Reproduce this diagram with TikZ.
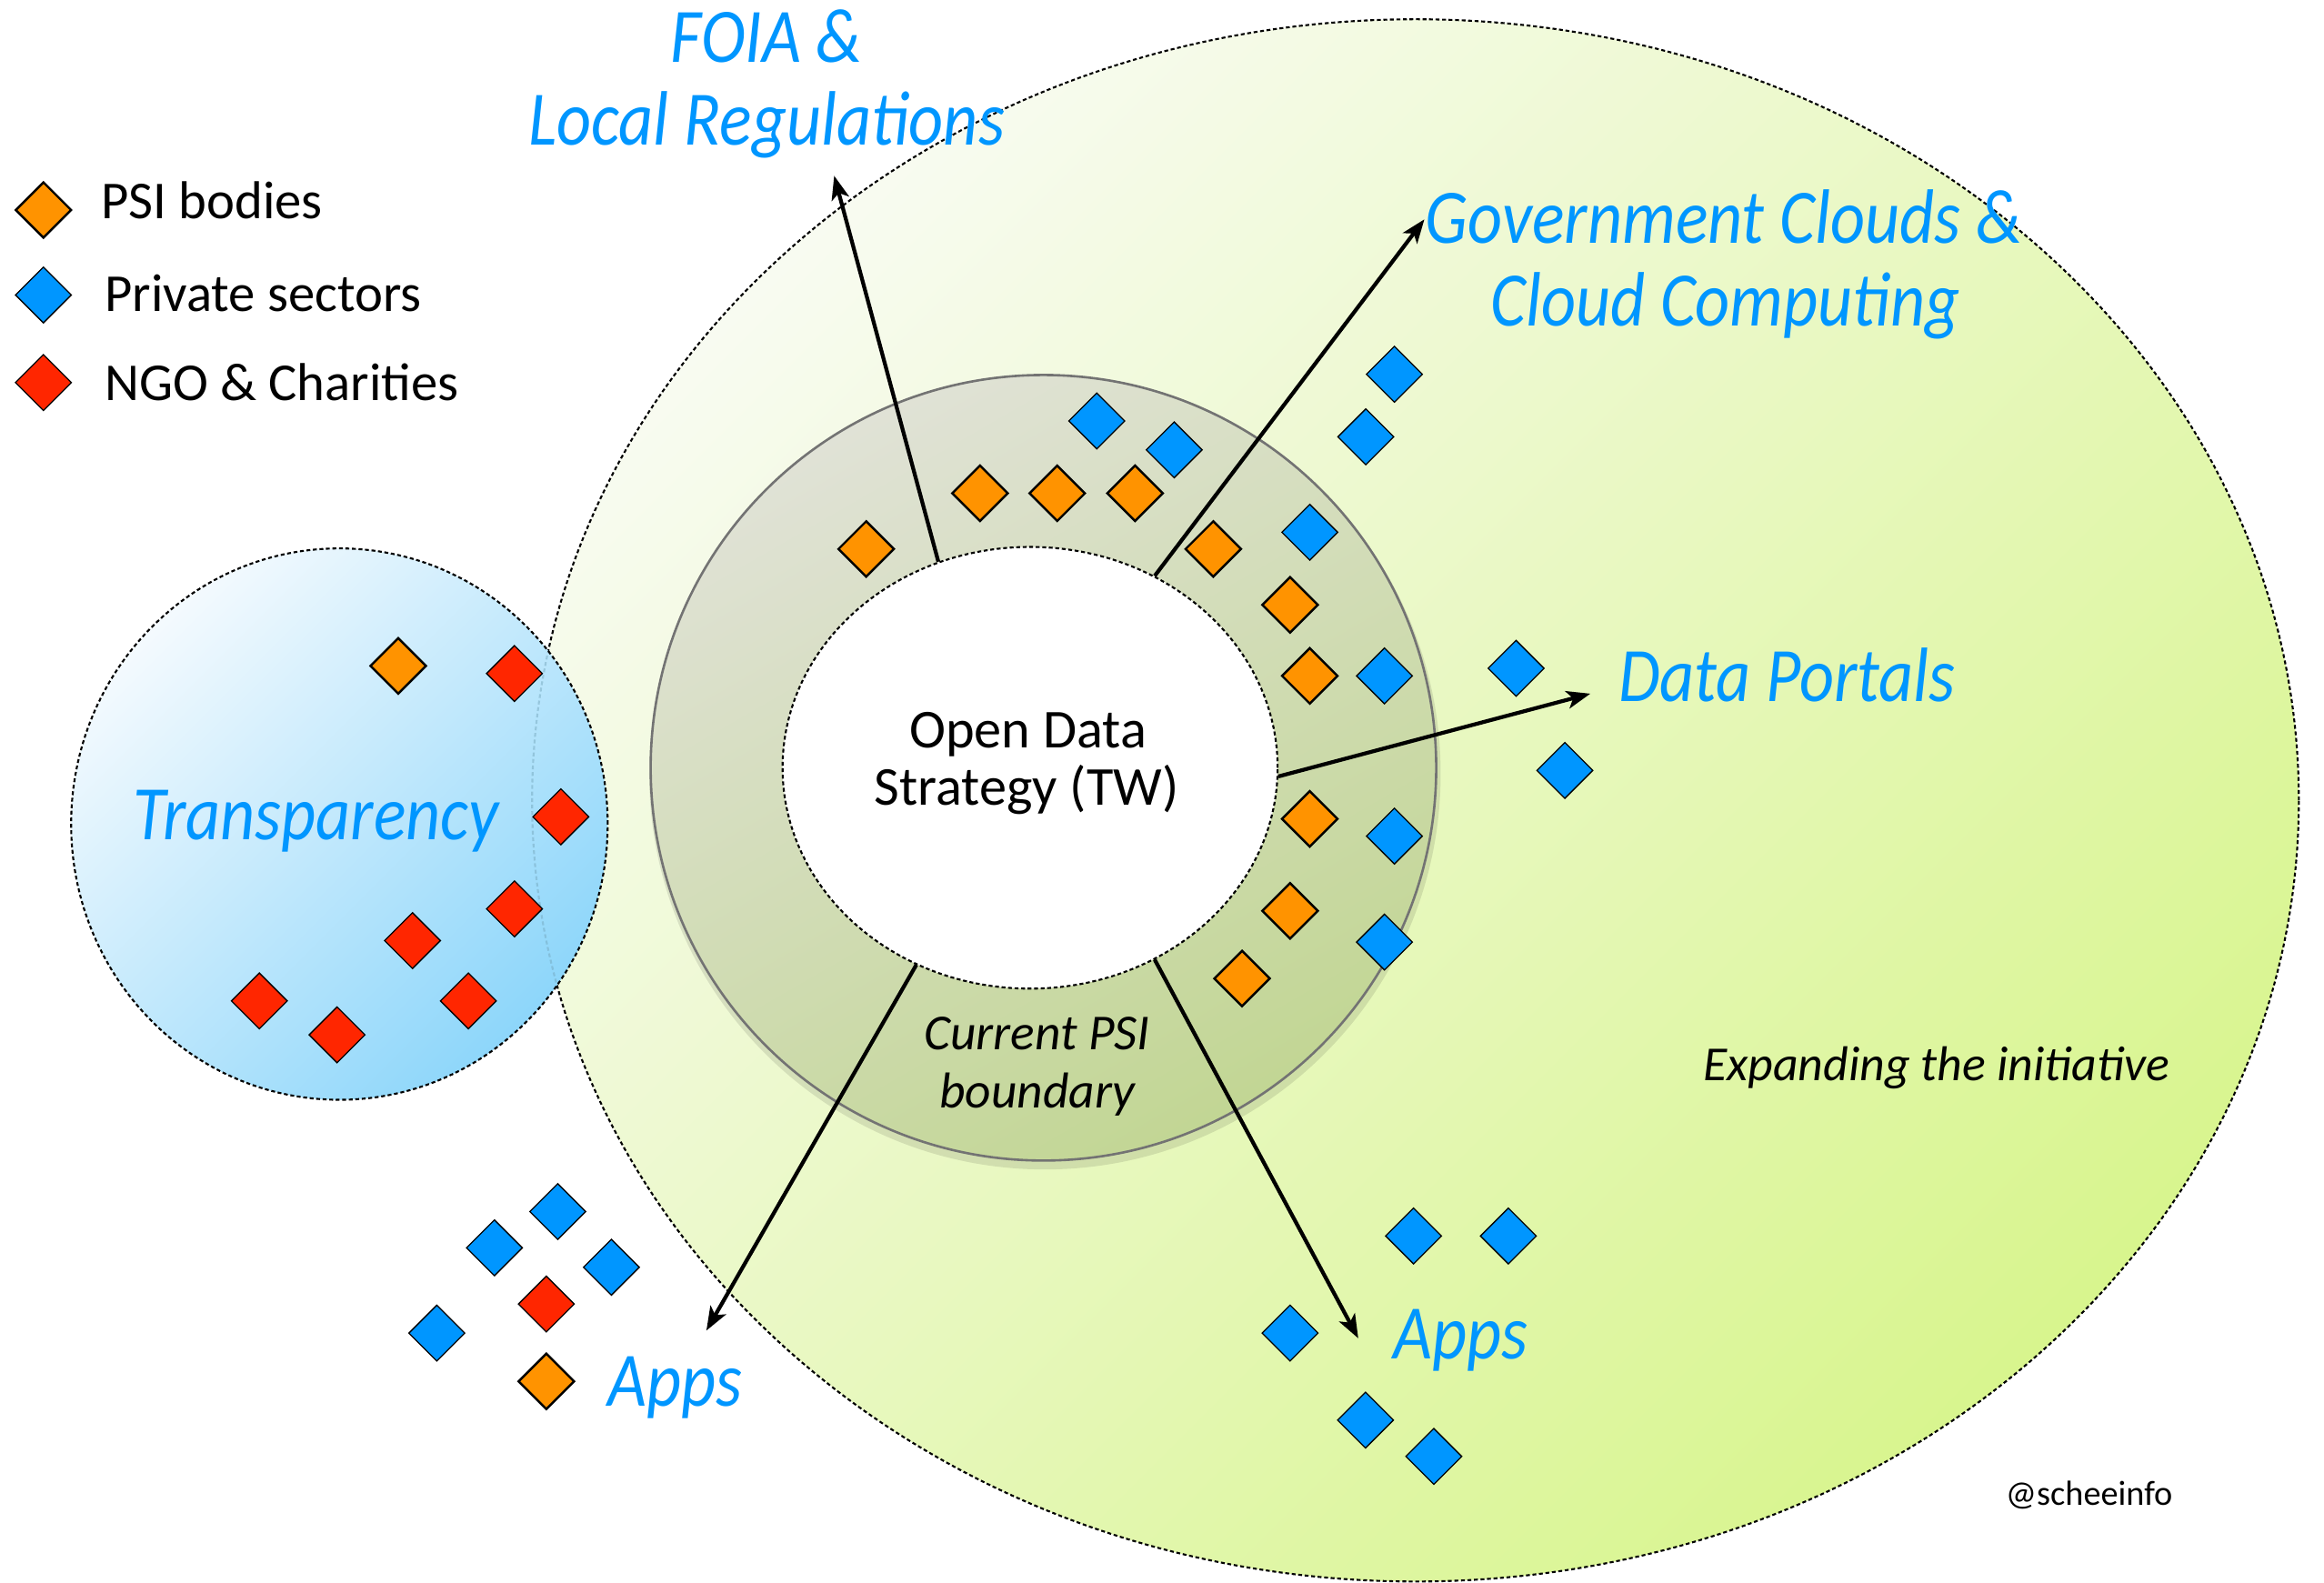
\documentclass[tikz,border=0pt]{standalone}
\usepackage{fontspec}
\setmainfont{Carlito}
\newfontfamily\lblfont[FakeStretch=0.875]{Carlito}
\usetikzlibrary{shapes.geometric,arrows.meta}
\definecolor{psi}{HTML}{FF9300}
\definecolor{prv}{HTML}{0096FF}
\definecolor{ngo}{HTML}{FF2600}
\definecolor{lbl}{HTML}{0096FF}
\definecolor{grnA}{HTML}{F8FBF1}
\definecolor{grnB}{HTML}{D8F58E}
\definecolor{bluA}{HTML}{F4FAFE}
\definecolor{bluB}{HTML}{8DD6FA}
\definecolor{ringA}{HTML}{E0E2D6}
\definecolor{ringB}{HTML}{C2D694}
\begin{document}
\begin{tikzpicture}[x=1bp,y=-1bp,
  dia/.style={shape=diamond,aspect=1,inner sep=0pt,minimum width=38bp,minimum height=38bp,draw=black,line width=0.8bp},
  dpsi/.style={dia,fill=psi,line width=1.5bp},
  dprv/.style={dia,fill=prv},
  dngo/.style={dia,fill=ngo},
  dotline/.style={draw=black,line width=1.3bp,dash pattern=on 2.6bp off 1.8bp},
  bluelbl/.style={text=lbl,font=\lblfont\fontsize{52bp}{56bp}\selectfont\itshape,inner sep=0pt,anchor=base},
  leg/.style={font=\fontsize{36bp}{40bp}\selectfont,anchor=base west,inner sep=0pt},
  core/.style={font=\fontsize{37bp}{40bp}\selectfont,anchor=base,inner sep=0pt},
  ital/.style={font=\fontsize{34bp}{38bp}\selectfont\itshape,inner sep=0pt},
  arr/.style={line width=2.6bp,-{Stealth[length=16bp,width=12bp,inset=4bp]}}
]
\useasboundingbox (0,0) rectangle (1568,1068);
% expanding area
\node[shape=ellipse,minimum width=1192bp,minimum height=1054bp,inner sep=0pt,
  top color=grnA,bottom color=grnB,shading angle=45,dotline] (expand) at (955,540) {};
% transparency circle
\node[shape=ellipse,minimum width=362bp,minimum height=372bp,inner sep=0pt,
  top color=bluA,bottom color=bluB,shading angle=45,dotline] (transp) at (229,556) {};
\begin{scope}
  \clip (229,556) ellipse [x radius=180bp,y radius=185bp];
  \draw[draw=gray!60!cyan,opacity=0.45,line width=1.3bp,dash pattern=on 2.6bp off 1.8bp]
    (955,540) ellipse [x radius=596bp,y radius=527bp];
\end{scope}
% current PSI boundary ring
\fill[black,opacity=0.10] (705,522) circle [radius=267bp];
\node[shape=circle,minimum size=530bp,inner sep=0pt,top color=ringA,bottom color=ringB,
  shading angle=30,draw=black!55,line width=1.6bp] (ring) at (704,518) {};
\node[shape=ellipse,minimum width=334bp,minimum height=298bp,inner sep=0pt,fill=white,dotline] (core) at (695,518) {};
% diamonds in ring
\node[dpsi] (o1) at (584.4,370.4) {};
\node[dpsi] (o2) at (661.2,332.8) {};
\node[dpsi] (o3) at (713.3,332.8) {};
\node[dpsi] (o4) at (765.8,332.8) {};
\node[dpsi] (o5) at (818.6,370.4) {};
\node[dpsi] (o6) at (870.4,408.1) {};
\node[dpsi] (o7) at (883.7,456) {};
\node[dpsi] (o8) at (883.7,552.5) {};
\node[dpsi] (o9) at (870.4,614.5) {};
\node[dpsi] (o10) at (838,660.2) {};
\node[dprv] (b1) at (740,284) {};
\node[dprv] (b2) at (792.2,303.5) {};
\node[dprv] (b3) at (883.7,359.1) {};
\node[dprv] (b4) at (934.1,456) {};
\node[dprv] (b5) at (940.8,564.1) {};
\node[dprv] (b6) at (934.1,635.6) {};
\node[dprv] (b7) at (921.5,294.7) {};
\node[dprv] (b8) at (940.8,252.5) {};
\node[dprv] (b9) at (1022.9,450.9) {};
\node[dprv] (b10) at (1055.8,519.8) {};
\node[dprv] (b11) at (953.7,833.9) {};
\node[dprv] (b12) at (1017.7,833.9) {};
\node[dprv] (b13) at (870.4,899.4) {};
\node[dprv] (b14) at (921.3,958.1) {};
\node[dprv] (b15) at (967.4,982.6) {};
\node[dprv] (b16) at (376.3,817.4) {};
\node[dprv] (b17) at (333.6,841.9) {};
\node[dprv] (b18) at (412.5,855) {};
\node[dngo] (r1) at (368.6,879.8) {};
\node[dprv] (b19) at (294.7,899.4) {};
\node[dpsi] (o11) at (368.6,932) {};
% transparency diamonds
\node[dpsi] (o12) at (268.7,449.3) {};
\node[dngo] (r2) at (347.1,454.4) {};
\node[dngo] (r3) at (378.4,551.1) {};
\node[dngo] (r4) at (347.1,613.2) {};
\node[dngo] (r5) at (278.3,634.6) {};
\node[dngo] (r6) at (316,675.3) {};
\node[dngo] (r7) at (175,675.3) {};
\node[dngo] (r8) at (227.4,698.2) {};
% legend
\node[dpsi] (lo) at (29.3,141.7) {};
\node[dprv] (lb) at (29.3,199) {};
\node[dngo] (lr) at (29.3,258.1) {};
\node[leg] (lot) at (68,147.7) {PSI bodies};
\node[leg] (lbt) at (70.5,210) {Private sectors};
\node[leg] (lrt) at (70.5,270) {NGO \& Charities};
% arrow targets
\coordinate (foiaT) at (562.8,118.6);
\coordinate (govT) at (961,148);
\coordinate (dataT) at (1073,468);
\coordinate (appsLT) at (476.6,897.7);
\coordinate (appsRT) at (916.4,902.9);
\draw[arr] (core.114) -- (foiaT);
\draw[arr] (core.57.6) -- (govT);
\draw[arr] (core.-2.4) -- (dataT);
\draw[arr] (core.240.7) -- (appsLT);
\draw[arr] (core.303.7) -- (appsRT);
% labels
\node[bluelbl] (foia1) at (517.2,42.3) {FOIA \&};
\node[bluelbl] (foia2) at (517.2,97.7) {Local Regulations};
\node[bluelbl] (gov1) at (1163,164) {Government Clouds \&};
\node[bluelbl] (gov2) at (1164,220) {Cloud Computing};
\node[bluelbl,anchor=base west] (data) at (1091.8,473.4) {Data Portals};
\node[bluelbl] (transt) at (213.3,566.6) {Transparency};
\node[bluelbl,anchor=base west] (appsL) at (410,949) {Apps};
\node[bluelbl,anchor=base west] (appsR) at (940,917) {Apps};
\node[core] (od1) at (693.6,504.3) {Open Data};
\node[core] (od2) at (692.7,543) {Strategy (TW)};
\node[ital,anchor=base] (cp1) at (699.7,708.5) {Current PSI};
\node[ital,anchor=base] (cp2) at (699.8,747.3) {boundary};
\node[ital,font=\fontsize{33bp}{36bp}\selectfont\itshape,anchor=base east] (expt) at (1464,728.8) {Expanding the initiative};
\node[font=\fontsize{23.5bp}{26bp}\selectfont,inner sep=0pt,anchor=base east] (cred) at (1466,1015.5) {@scheeinfo};
\end{tikzpicture}
\end{document}
